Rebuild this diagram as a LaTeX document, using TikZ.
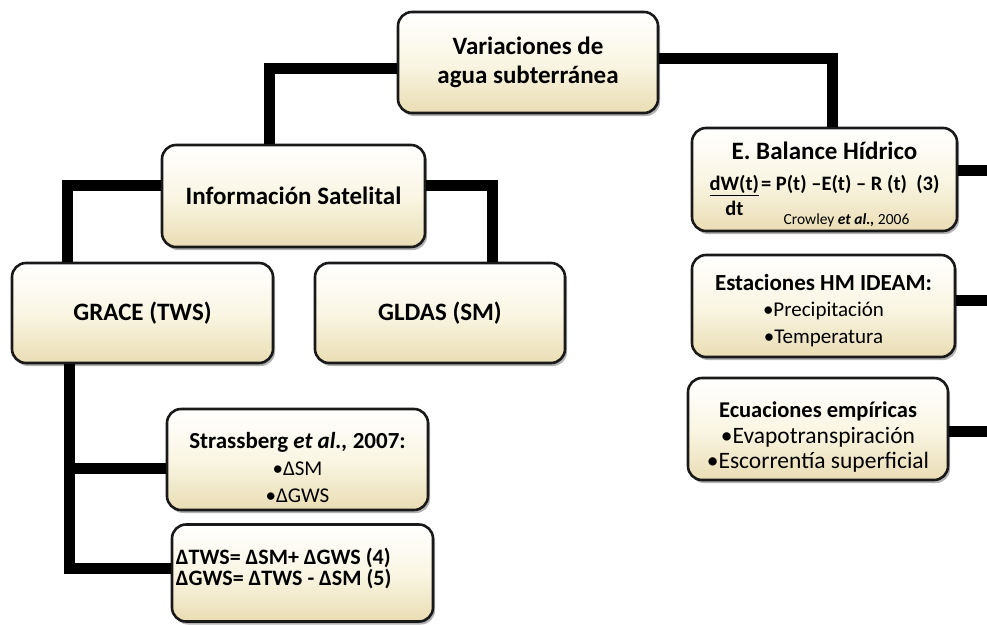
\documentclass[tikz,border=0pt]{standalone}
\usepackage{fontspec}
\setmainfont{Carlito}
\usetikzlibrary{shadows,calc}
\definecolor{boxbot}{RGB}{234,221,180}
\definecolor{boxmid}{RGB}{250,246,228}
\newcommand{\fracdw}{\begin{tabular}[t]{@{}c@{}}\underline{dW(t)}\\[-5pt]dt\end{tabular}}
\tikzset{
  box/.style={draw=black!90, line width=2.6pt, rounded corners=14pt,
    top color=white, bottom color=boxbot, middle color=boxmid,
    drop shadow={shadow xshift=2pt, shadow yshift=-3pt, opacity=0.3, fill=black},
    inner sep=0pt, align=center, text=black},
  txt/.style={inner sep=0pt, align=center, text=black},
  conn/.style={line width=11pt, line join=miter, draw=black},
  bigtxt/.style={font=\bfseries\fontsize{25}{29}\selectfont}
}
\begin{document}
\begin{tikzpicture}[x=1pt,y=-1pt]
\useasboundingbox (0,0) rectangle (987,624);
% boxes
\node[box, bigtxt, minimum width=260pt, minimum height=101pt] (top) at (528,62.5) {Variaciones de\\agua subterránea};
\node[box, bigtxt, minimum width=263pt, minimum height=102pt] (info) at (293.5,196) {Información Satelital};
\node[box, bigtxt, minimum width=261pt, minimum height=100pt] (grace) at (142.5,313) {GRACE (TWS)};
\node[box, bigtxt, minimum width=250pt, minimum height=100pt] (gldas) at (440,313) {GLDAS (SM)};
\node[box, minimum width=261pt, minimum height=101pt] (str) at (297.5,459.5) {};
\node[box, minimum width=261pt, minimum height=97pt] (tws) at (302.5,573) {};
\node[box, minimum width=265pt, minimum height=103pt] (bal) at (824.5,179.5) {};
\node[box, minimum width=263pt, minimum height=102pt] (est) at (823.5,306) {};
\node[box, minimum width=260pt, minimum height=102pt] (ecu) at (818,429) {};
% texts inside boxes
\node[txt, font=\fontsize{21}{27}\selectfont] (strt) at ([yshift=-7.5pt]str.center)
  {{\bfseries\fontsize{23}{27}\selectfont Strassberg \textit{et al.,} 2007:}\\•ΔSM\\•ΔGWS};
\node[txt, align=left, anchor=west, font=\bfseries\fontsize{22}{21}\selectfont] (twst) at ([xshift=5pt,yshift=4.5pt]tws.west)
  {ΔTWS= ΔSM+ ΔGWS (4)\\ΔGWS= ΔTWS - ΔSM (5)};
\node[txt, anchor=north, font=\bfseries\fontsize{20.5}{30}\selectfont] (balt) at ([yshift=-15pt]bal.north)
  {{\fontsize{25}{30}\selectfont E. Balance Hídrico}\\[1pt]
   \fracdw\hspace{2pt}= P(t) –E(t) – R (t)~~(3)\\[-12pt]
   {\mdseries\fontsize{15.5}{17}\selectfont\hspace*{44pt}Crowley \textit{\bfseries et al.,} 2006}};
\node[txt, font=\fontsize{21}{26.5}\selectfont] (estt) at ([yshift=-4.5pt]est.center)
  {{\bfseries\fontsize{23}{26.5}\selectfont Estaciones HM IDEAM:}\\•Precipitación\\•Temperatura};
\node[txt, font=\fontsize{23.5}{25.5}\selectfont] (ecut) at ([yshift=-8pt]ecu.center)
  {{\bfseries\fontsize{22.5}{25.5}\selectfont Ecuaciones empíricas}\\•Evapotranspiración\\•Escorrentía superficial};
% helper coordinates and free ends
\coordinate (gs) at ([xshift=-73.5pt]grace.south);
\coordinate (sb) at ([yshift=-8.5pt]str.west);
\coordinate (e1) at (995,170);
\coordinate (e2) at (995,300);
\coordinate (e3) at (995,431);
% connectors
\draw[conn] ([yshift=-5.5pt]top.west) -| ([xshift=-24.5pt]info.north);
\draw[conn] ([yshift=4.5pt]top.east) -| ([xshift=7.5pt]bal.north);
\draw[conn] ([yshift=11pt]info.west) -| ([xshift=-75.5pt]grace.north);
\draw[conn] ([yshift=11pt]info.east) -| ([xshift=52pt]gldas.north);
\draw[conn] (gs) |- ([yshift=5pt]tws.west);
\draw[conn] (gs |- sb) -- (sb);
\draw[conn] (bal.east |- e1) -- (e1);
\draw[conn] (est.east |- e2) -- (e2);
\draw[conn] (ecu.east |- e3) -- (e3);
\end{tikzpicture}
\end{document}
